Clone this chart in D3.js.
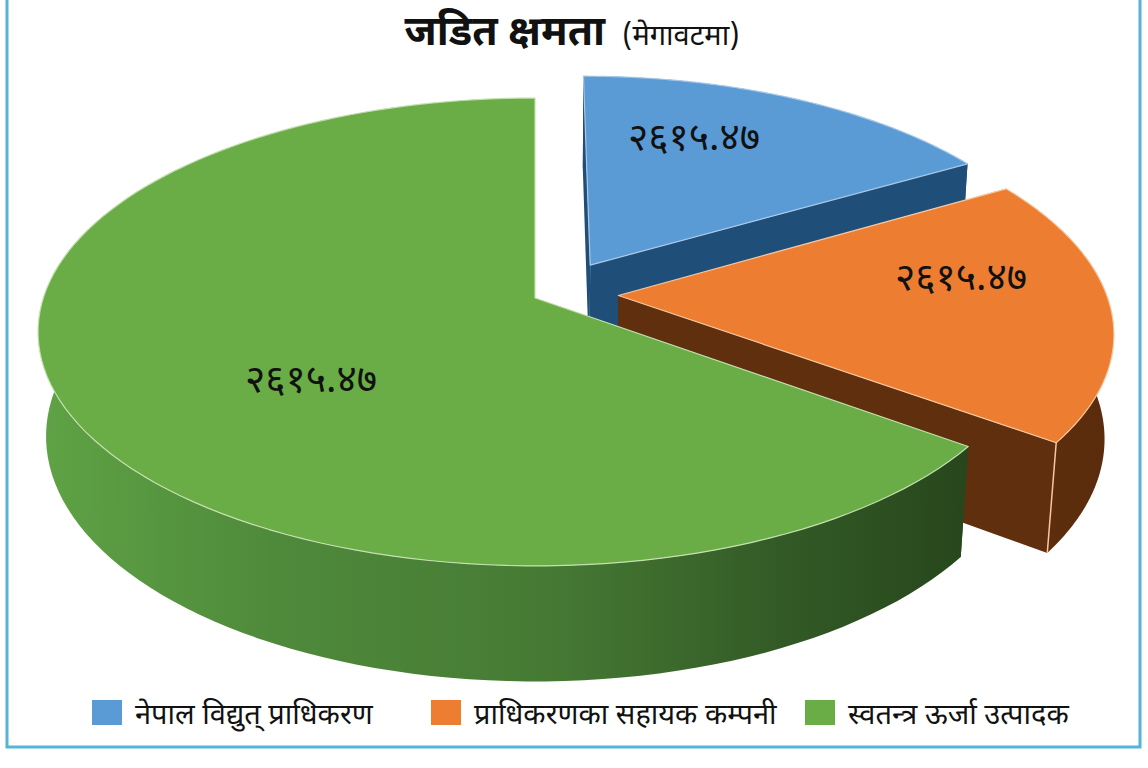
<!DOCTYPE html>
<html>

<head>
    <meta charset="utf-8">
    <script src="https://d3js.org/d3.v7.min.js"></script>
    <style>
        html, body { margin: 0; padding: 0; background: #fff; }
        text { font-family: "Noto Sans Devanagari", "Lohit Devanagari", "Noto Sans", "DejaVu Sans", sans-serif; fill: #111; }
    </style>
</head>

<body>
    <div id="chart"></div>
    <script>
        const titleMain = "जडित क्षमता"
        const titleUnit = "(मेगावटमा)"
        const categories = ["नेपाल विद्युत् प्राधिकरण", "प्राधिकरणका सहायक कम्पनी", "स्वतन्त्र ऊर्जा उत्पादक"]
        const shares = [16.6, 18.5, 64.9]
        const valueLabels = ["२६१५.४७", "२६१५.४७", "२६१५.४७"]

        const width = 1148
        const height = 768

        const topColors = ["#5b9bd5", "#ed7d31", "#6aac45"]
        const faceColors = ["#1f4e79", "#5f2f0e", "#2a4a1e"]
        const rimStops = [
            [["0%", "#1f4e79"], ["100%", "#1f4e79"]],
            [["0%", "#5f2f0e"], ["100%", "#5a2b0c"]],
            [["0%", "#5fa345"], ["25%", "#4f8a3b"], ["55%", "#467a34"], ["80%", "#335a26"], ["100%", "#27461c"]]
        ]
        const edgeColors = ["#a9c9e8", "#f6c8a0", "#c4e0b0"]

        // how far each slice is pulled out of the pie, and its size
        const explodes = [0.19, 0.17, 0]
        const shiftU = [0.02, 0, 0]
        const shiftV = [0.018, -0.02, 0]
        const sliceScale = [0.98, 0.995, 1]

        const svg = d3.select("#chart").append("svg")
            .attr("width", width).attr("height", height)

        // frame around the chart, cut by the top of the picture
        svg.append("path")
            .attr("d", d3.line()([[7, 0], [7, 747], [1140, 747], [1140, 0]]))
            .attr("fill", "none").attr("stroke", "#55b5d8").attr("stroke-width", 3)

        // tilted disc: u to the right, v towards the viewer, z down
        const cx = 535, cy = 298
        const radiusX = 491.7, radiusY = 229, depth = 105
        const tiltP = 0.145, tiltQ = 0.016

        const project = (u, v, z) => {
            const w = 1 - tiltP * v + tiltQ * z
            return [cx + radiusX * u / w, cy + (radiusY * v + depth * z) / w]
        }

        const pie = d3.pie().sort(null)
        const arcs = pie(shares)
        const line = d3.line()
        const defs = svg.append("defs")

        const slices = svg.selectAll("g.slice")
            .data(arcs)
            .enter()
            .append("g")
            .attr("class", "slice")

        slices.each(function (d, i) {
            const g = d3.select(this)
            const mid = (d.startAngle + d.endAngle) / 2
            const ox = explodes[i] * Math.sin(mid) + shiftU[i]
            const oy = -explodes[i] * Math.cos(mid) + shiftV[i]
            const r = sliceScale[i]

            const rimPoint = (a, z) => project(ox + r * Math.sin(a), oy - r * Math.cos(a), z)
            const apex = (z) => project(ox, oy, z)
            const angles = d3.range(0, 121).map(k => d.startAngle + (d.endAngle - d.startAngle) * k / 120)

            const gradId = "rim" + i
            const xs = angles.map(a => rimPoint(a, 0)[0])
            const grad = defs.append("linearGradient")
                .attr("id", gradId)
                .attr("gradientUnits", "userSpaceOnUse")
                .attr("x1", d3.min(xs)).attr("x2", d3.max(xs))
                .attr("y1", 0).attr("y2", 0)
            grad.selectAll("stop").data(rimStops[i]).enter().append("stop")
                .attr("offset", s => s[0]).attr("stop-color", s => s[1])

            // cut faces
            ;[d.startAngle, d.endAngle].forEach(a => {
                g.append("path")
                    .attr("d", line([apex(0), rimPoint(a, 0), rimPoint(a, 1), apex(1)]) + "Z")
                    .attr("fill", faceColors[i])
            })

            // outer wall
            const wall = angles.map(a => rimPoint(a, 0))
                .concat(angles.slice().reverse().map(a => rimPoint(a, 1)))
            g.append("path")
                .attr("d", line(wall) + "Z")
                .attr("fill", "url(#" + gradId + ")")

            // light seam on the outer corner of the orange slice
            if (i === 1) {
                g.append("path")
                    .attr("d", line([rimPoint(d.endAngle, 0), rimPoint(d.endAngle, 1)]))
                    .attr("stroke", edgeColors[i]).attr("stroke-width", 1.5).attr("fill", "none")
            }

            // top face
            const top = [apex(0)].concat(angles.map(a => rimPoint(a, 0)))
            g.append("path")
                .attr("d", line(top) + "Z")
                .attr("fill", topColors[i])
                .attr("stroke", edgeColors[i]).attr("stroke-width", 1.2)
                .attr("stroke-linejoin", "round")
        })

        // value labels, put on the slices by hand as in the source picture
        const labelSpots = [[694, 140], [961, 280], [311, 382]]
        svg.selectAll("text.value")
            .data(valueLabels)
            .enter()
            .append("text")
            .attr("class", "value")
            .attr("x", (d, i) => labelSpots[i][0])
            .attr("y", (d, i) => labelSpots[i][1])
            .attr("text-anchor", "middle")
            .attr("dominant-baseline", "middle")
            .attr("font-size", 39)
            .text(d => d)

        // title
        const title = svg.append("text").attr("x", 572).attr("y", 45).attr("text-anchor", "middle")
        title.append("tspan").attr("font-size", 41).attr("font-weight", "bold").text(titleMain)
        title.append("tspan").attr("font-size", 29).attr("dx", 17).text(titleUnit)

        // legend
        const legendX = [92, 431, 805]
        const legend = svg.selectAll("g.legend")
            .data(categories)
            .enter()
            .append("g")
            .attr("class", "legend")
            .attr("transform", (d, i) => "translate(" + legendX[i] + ",700)")
        legend.append("rect")
            .attr("width", 30).attr("height", 25)
            .attr("fill", (d, i) => topColors[i])
        legend.append("text")
            .attr("x", 43).attr("y", 24)
            .attr("font-size", 29)
            .text(d => d)
    </script>
</body>

</html>
